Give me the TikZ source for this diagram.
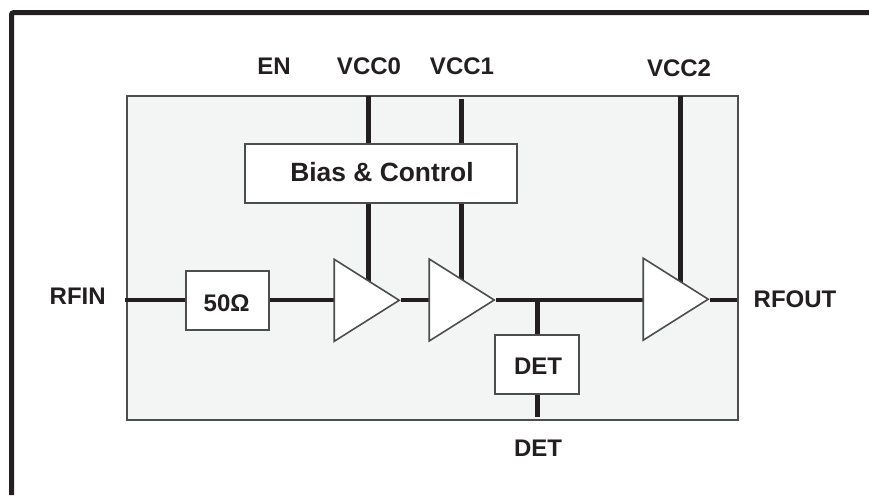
\documentclass[tikz,border=0pt]{standalone}
\usepackage{fontspec}
\setmainfont{Liberation Sans}
\usetikzlibrary{shapes.geometric,backgrounds}
\definecolor{ink}{HTML}{231F20}
\definecolor{edge}{HTML}{4D4D4F}
\definecolor{chipfill}{HTML}{F3F5F4}
\tikzset{
  x=1pt,y=-1pt,
  lbl/.style={inner sep=0pt,text=ink,text height=16.8pt,text depth=0pt,font=\fontsize{24pt}{28pt}\selectfont\bfseries},
  biglbl/.style={lbl,text height=18.4pt,font=\fontsize{26.4pt}{30pt}\selectfont\bfseries},
  chipbox/.style={draw=edge,line width=2pt,fill=chipfill,inner sep=0pt,minimum width=611pt,minimum height=324pt},
  blockbox/.style={draw=edge,line width=2pt,fill=white,inner sep=0pt,text=ink},
  amp/.style={isosceles triangle,isosceles triangle stretches,draw=edge,line width=1.6pt,fill=white,inner sep=0pt,minimum width=82pt,minimum height=65pt,anchor=apex,shape border rotate=0},
  sig/.style={draw=ink,line width=3.4pt},
  supply/.style={draw=ink,line width=4.6pt},
  frameline/.style={draw=ink,line width=5pt,rounded corners=2pt},
}
\begin{document}
\begin{tikzpicture}
\useasboundingbox (0,0) rectangle (869,495);
\draw[frameline] (11.5,495) -- (11.5,12.7) -- (869,12.7);

% blocks
\node[blockbox,minimum width=271.7pt,minimum height=59.5pt] (bias) at (381,173.7) {};
\node[biglbl] (biastext) at (382,172) {Bias \& Control};
\node[blockbox,minimum width=83.3pt,minimum height=59pt] (res) at (227.3,300.2) {};
\node[lbl] (restext) at (226.7,303) {50Ω};
\node[blockbox,minimum width=83.4pt,minimum height=59.3pt] (detb) at (537,364.3) {};
\node[lbl] (dettext) at (538,366) {DET};
\node[amp] (a1) at (401.3,300.3) {};
\node[amp] (a2) at (496.3,300) {};
\node[amp] (a3) at (710.3,299.2) {};

% free ends
\coordinate (v0) at (368.7,96);
\coordinate (v1) at (461.7,98.5);
\coordinate (v2) at (680.7,96);
\coordinate (rfi) at (125,300);
\coordinate (rfo) at (737,300);
\coordinate (detnode) at (537.7,300);
\coordinate (detend) at (537.7,417);

% chip and connectors under the blocks
\begin{scope}[on background layer]
  \node[chipbox] (chip) at (432.3,258) {};
  \draw[sig] (rfi) -- (rfi -| res.west);
  \draw[sig] (rfi -| res.east) -- (rfi -| a1.center);
  \draw[sig] (rfi -| a1.apex) -- (rfi -| a2.center);
  \draw[sig] (rfi -| a2.apex) -- (rfi -| a3.center);
  \draw[sig] (rfi -| a3.apex) -- (rfo);
  \draw[supply] (v0) -- (v0 |- bias.north);
  \draw[supply] (v1) -- (v1 |- bias.north);
  \draw[supply] (v0 |- bias.south) -- (v0 |- a1.center);
  \draw[supply] (v1 |- bias.south) -- (v1 |- a2.center);
  \draw[supply] (v2) -- (v2 |- a3.center);
  \draw[supply] (detnode) -- (detnode |- detb.north);
  \draw[supply] (detnode |- detb.south) -- (detend);
\end{scope}

% pin labels
\node[lbl] (en) at (274,66) {EN};
\node[lbl] (vcc0) at (369,66) {VCC0};
\node[lbl] (vcc1) at (462,66) {VCC1};
\node[lbl] (vcc2) at (679,68) {VCC2};
\node[lbl] (rfin) at (77.7,295.7) {RFIN};
\node[lbl] (rfout) at (795,299) {RFOUT};
\node[lbl] (detpin) at (538,447.7) {DET};
\end{tikzpicture}
\end{document}
